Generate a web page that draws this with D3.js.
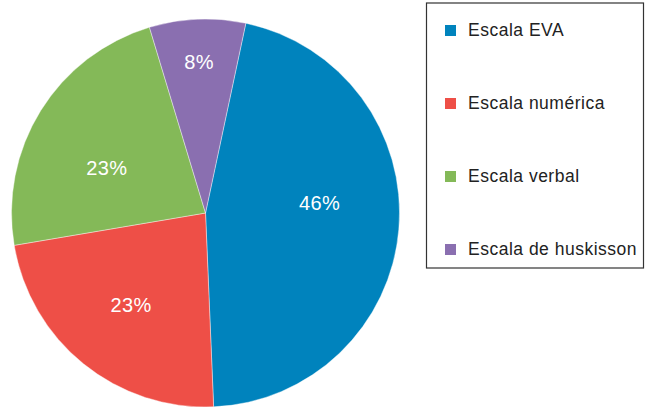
<!DOCTYPE html>
<html>
<head>
<meta charset="utf-8">
<script src="https://cdn.jsdelivr.net/npm/d3@7"></script>
<style>
  body { margin: 0; background: #fff; }
  svg { display: block; font-family: "Liberation Sans", Arial, sans-serif; }
</style>
</head>
<body>
<div id="chart"></div>
<script>
var categories = ['Escala EVA', 'Escala numérica', 'Escala verbal', 'Escala de huskisson']
var values = [46, 23, 23, 8]
var labels = ['46%', '23%', '23%', '8%']
var colors = ['#0083bd', '#ee4f47', '#84b958', '#8a6fb0']

var width = 648, height = 407
var cx = 205.5, cy = 213, radius = 194

// label placement tweaks (degrees off the mid angle, fraction of radius)
var labelShift = [-10, 0, -7, 0]
var labelDist = [0.59, 0.61, 0.56, 0.78]

var svg = d3.select('#chart').append('svg')
	.attr('width', width)
	.attr('height', height)

var pie = d3.pie()
	.sort(null)
	.value(function(d) { return d })
	.startAngle(12 * Math.PI / 180)
	.endAngle(12 * Math.PI / 180 + 2 * Math.PI)

var arcs = pie(values)

var arc = d3.arc().innerRadius(0).outerRadius(radius)

var chart = svg.append('g')
	.attr('transform', 'translate(' + cx + ',' + cy + ')')

chart.selectAll('path').data(arcs)
	.enter().append('path')
	.attr('d', arc)
	.attr('fill', function(d, i) { return colors[i] })
	.attr('stroke', '#fff')
	.attr('stroke-width', 0.4)

chart.selectAll('text').data(arcs)
	.enter().append('text')
	.attr('transform', function(d, i) {
		var a = (d.startAngle + d.endAngle) / 2 + labelShift[i] * Math.PI / 180
		var r = radius * labelDist[i]
		return 'translate(' + (r * Math.sin(a)) + ',' + (-r * Math.cos(a)) + ')'
	})
	.attr('text-anchor', 'middle')
	.attr('dy', '0.36em')
	.attr('fill', '#fff')
	.style('font-size', '20px')
	.style('letter-spacing', '0.4px')
	.text(function(d, i) { return labels[i] })

// legend
var legend = svg.append('g')
legend.append('rect')
	.attr('x', 426.5)
	.attr('y', 3)
	.attr('width', 217)
	.attr('height', 265)
	.attr('fill', 'none')
	.attr('stroke', '#333')
	.attr('stroke-width', 1.2)

var ly = d3.scalePoint()
	.domain(categories)
	.range([31, 250])

var items = legend.selectAll('g.item').data(categories)
	.enter().append('g')
	.attr('class', 'item')
	.attr('transform', function(d) { return 'translate(445,' + ly(d) + ')' })
items.append('rect')
	.attr('x', 0)
	.attr('y', -6)
	.attr('width', 11)
	.attr('height', 11)
	.attr('fill', function(d, i) { return colors[i] })
items.append('text')
	.attr('x', 23)
	.attr('y', 5)
	.attr('fill', '#222')
	.style('font-size', '17.5px')
	.style('letter-spacing', '0.5px')
	.text(function(d) { return d })
</script>
</body>
</html>
